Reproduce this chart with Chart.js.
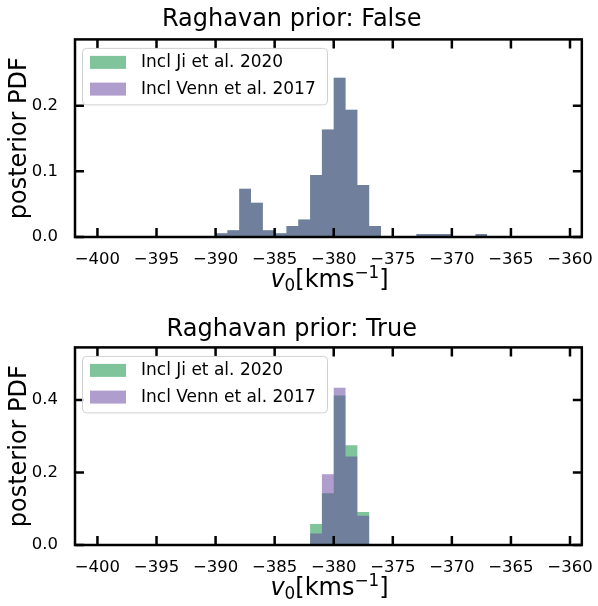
<!DOCTYPE html>
<html lang="en">
<head>
    <meta charset="UTF-8">
    <title>Raghavan prior posteriors</title>
    <script src="https://cdn.jsdelivr.net/npm/chart.js"></script>
    <style>
        body { margin: 0; background: #fff; }
        .panel { position: absolute; left: 0; width: 598px; height: 303px; }
        .xlab {
            position: absolute; left: 75px; width: 509px; text-align: center;
            font-family: 'DejaVu Sans'; font-size: 24px; line-height: 28px; color: #000;
        }
        .xlab sub, .xlab sup { font-size: 70%; line-height: 0; }
        .xlab sub { vertical-align: -0.25em; }
        .xlab sup { vertical-align: 0.55em; }
    </style>
</head>
<body>
    <div class="panel" style="top:0"><canvas id="topChart" width="598" height="303"></canvas></div>
    <div class="panel" style="top:303px"><canvas id="bottomChart" width="598" height="303"></canvas></div>
    <div class="xlab" style="top:265px"><i>v</i><sub>0</sub>[kms<sup>−1</sup>]</div>
    <div class="xlab" style="top:573px"><i>v</i><sub>0</sub>[kms<sup>−1</sup>]</div>

    <script>
        // x tick labels (shared)
        const xTicks = [-400, -395, -390, -385, -380, -375, -370, -365, -360];
        const binWidth = 1;

        // Raghavan prior: False  (bin centres)
        const falseBins = [-389.5, -388.5, -387.5, -386.5, -385.5, -384.5, -383.5, -382.5, -381.5,
                           -380.5, -379.5, -378.5, -377.5, -376.5, -372.5, -371.5, -370.5, -367.5];
        const falseJi   = [0.0056, 0.0101, 0.0734, 0.0523, 0.0101, 0.0056, 0.0166, 0.0267, 0.0945,
                           0.1638, 0.2427, 0.1940, 0.0794, 0.0166, 0.0045, 0.0045, 0.0045, 0.0045];
        const falseVenn = [0.0056, 0.0101, 0.0734, 0.0523, 0.0101, 0.0056, 0.0166, 0.0267, 0.0945,
                           0.1638, 0.2427, 0.1940, 0.0794, 0.0166, 0.0045, 0.0045, 0.0045, 0.0045];
        const falseYTicks = [0, 0.1, 0.2];

        // Raghavan prior: True
        const trueBins = [-382.5, -381.5, -380.5, -379.5, -378.5, -377.5, -376.5];
        const trueJi   = [0.003, 0.058, 0.143, 0.412, 0.275, 0.091, 0.003];
        const trueVenn = [0.000, 0.032, 0.195, 0.434, 0.244, 0.081, 0.003];
        const trueYTicks = [0, 0.2, 0.4];

        const labels = ['Incl Ji et al. 2020', 'Incl Venn et al. 2017'];
        const greenFill = 'rgba(0, 137, 55, 0.5)';
        const purpleFill = 'rgba(95, 59, 157, 0.5)';

        Chart.defaults.font.family = 'DejaVu Sans';
        Chart.defaults.color = '#000';

        const fmtMinus = v => String(v).replace('-', '\u2212');

        // histogram outline as step points: value held from a bin's left edge,
        // dropping back to zero after each run of adjacent bins
        function histSteps(centres, values) {
            const pts = [];
            centres.forEach((c, i) => {
                pts.push({x: c - binWidth / 2, y: values[i]});
                const next = centres[i + 1];
                if (next === undefined || next - c > binWidth * 1.01) {
                    pts.push({x: c + binWidth / 2, y: 0});
                }
            });
            return pts;
        }

        // frame + inward ticks on all four sides
        const framePlugin = {
            id: 'frame',
            afterDatasetsDraw(chart) {
                const {ctx, chartArea: a, scales: {x, y}} = chart;
                const len = 9;
                ctx.save();
                ctx.strokeStyle = '#000';
                ctx.lineWidth = 2.5;
                ctx.beginPath();
                x.ticks.forEach(t => {
                    const px = x.getPixelForValue(t.value);
                    ctx.moveTo(px, a.bottom); ctx.lineTo(px, a.bottom - len);
                    ctx.moveTo(px, a.top); ctx.lineTo(px, a.top + len);
                });
                y.ticks.forEach(t => {
                    const py = y.getPixelForValue(t.value);
                    ctx.moveTo(a.left, py); ctx.lineTo(a.left + len, py);
                    ctx.moveTo(a.right, py); ctx.lineTo(a.right - len, py);
                });
                ctx.stroke();
                ctx.strokeRect(a.left, a.top, a.right - a.left, a.bottom - a.top);
                ctx.restore();
            }
        };

        // legend box inside the plot area (upper left)
        const insideLegend = {
            id: 'insideLegend',
            afterDraw(chart) {
                const {ctx, chartArea: a} = chart;
                const bx = a.left + 7.5, by = a.top + 9, bw = 245, bh = 56.5;
                ctx.save();
                ctx.beginPath();
                ctx.roundRect(bx, by, bw, bh, 4);
                ctx.fillStyle = 'rgba(255,255,255,0.8)';
                ctx.fill();
                ctx.strokeStyle = '#d0d0d0';
                ctx.lineWidth = 1;
                ctx.stroke();
                ctx.font = '17px "DejaVu Sans"';
                ctx.textBaseline = 'middle';
                chart.data.datasets.forEach((ds, i) => {
                    const py = by + 7.5 + i * 26.7;
                    ctx.fillStyle = '#fff';
                    ctx.fillRect(bx + 7.5, py, 36, 13);
                    ctx.fillStyle = ds.backgroundColor;
                    ctx.fillRect(bx + 7.5, py, 36, 13);
                    ctx.fillStyle = '#000';
                    ctx.fillText(ds.label, bx + 58.5, py + 6.5);
                });
                ctx.restore();
            }
        };

        function histDataset(label, centres, values, color, order) {
            return {
                label,
                data: histSteps(centres, values),
                stepped: 'before',
                fill: 'origin',
                backgroundColor: color,
                borderColor: 'rgba(0,0,0,0)',
                borderWidth: 0,
                pointRadius: 0,
                tension: 0,
                order
            };
        }

        function makeChart(id, title, bins, ji, venn, yMax, yTicks, xHeight, titlePad) {
            const ctx = document.getElementById(id).getContext('2d');
            return new Chart(ctx, {
                type: 'line',
                data: {
                    datasets: [
                        histDataset(labels[0], bins, ji, greenFill, 1),
                        histDataset(labels[1], bins, venn, purpleFill, 0)
                    ]
                },
                options: {
                    responsive: false,
                    animation: false,
                    events: [],
                    layout: { padding: { left: 0, right: 14.5, top: 0, bottom: 0 } },
                    scales: {
                        x: {
                            type: 'linear',
                            min: -401.9,
                            max: -359,
                            afterBuildTicks: s => { s.ticks = xTicks.map(v => ({value: v})); },
                            afterFit: s => { s.height = xHeight; },
                            grid: { display: false },
                            border: { display: false },
                            ticks: {
                                autoSkip: false,
                                maxRotation: 0,
                                padding: 5,
                                font: { size: 16.5 },
                                callback: v => fmtMinus(v)
                            }
                        },
                        y: {
                            min: 0,
                            max: yMax,
                            afterBuildTicks: s => { s.ticks = yTicks.map(v => ({value: v})); },
                            afterFit: s => { s.width = 75; },
                            grid: { display: false },
                            border: { display: false },
                            ticks: {
                                padding: 9,
                                font: { size: 16.5 },
                                callback: v => v.toFixed(1)
                            },
                            title: {
                                display: true,
                                text: 'posterior PDF',
                                font: { size: 24 },
                                padding: { top: 5, bottom: 0 }
                            }
                        }
                    },
                    plugins: {
                        legend: { display: false },
                        tooltip: { enabled: false },
                        title: {
                            display: true,
                            text: title,
                            font: { size: 24, weight: 'normal' },
                            padding: titlePad
                        }
                    }
                },
                plugins: [framePlugin, insideLegend]
            });
        }

        makeChart('topChart', 'Raghavan prior: False', falseBins, falseJi, falseVenn,
                  0.301, falseYTicks, 66, { top: 5, bottom: 5.6 });
        makeChart('bottomChart', 'Raghavan prior: True', trueBins, trueJi, trueVenn,
                  0.545, trueYTicks, 61, { top: 12.8, bottom: 2.8 });
    </script>
</body>
</html>
